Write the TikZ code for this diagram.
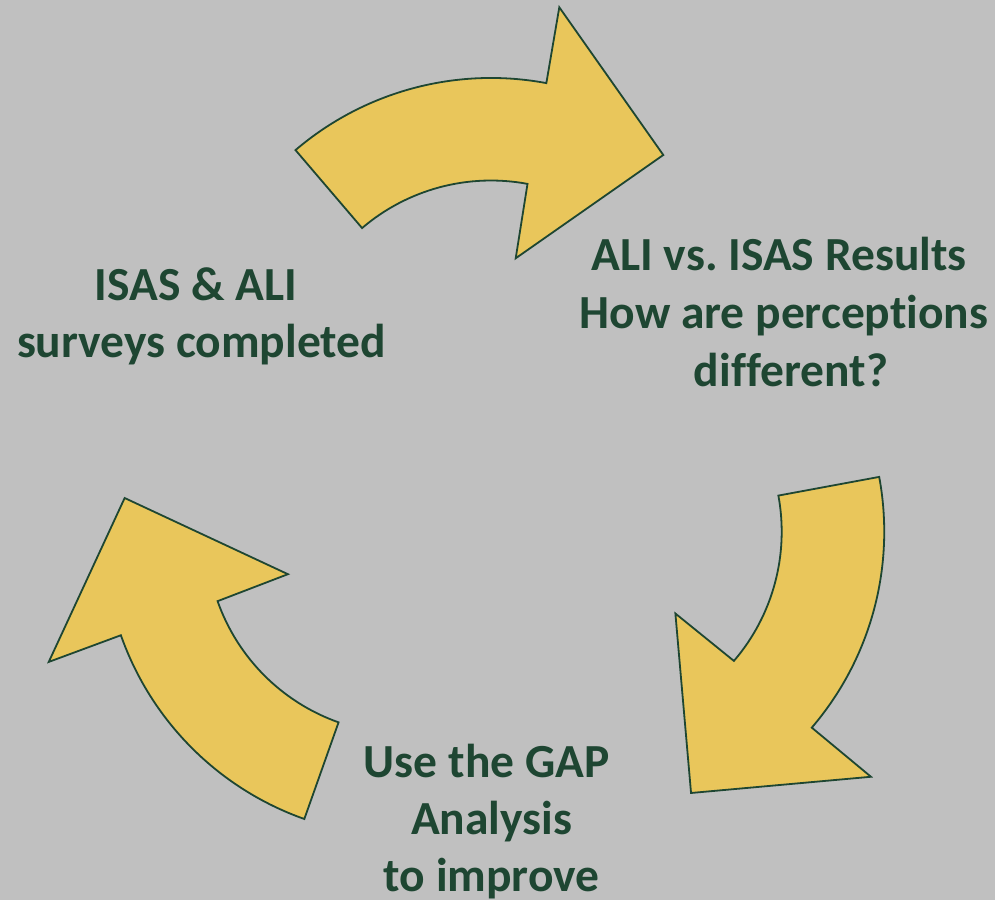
\documentclass[tikz,border=0pt]{standalone}
\usepackage{fontspec}
\setmainfont{Carlito}[Ligatures={NoCommon}]
\frenchspacing
\definecolor{bgc}{RGB}{192,192,192}
\definecolor{arrowfill}{RGB}{233,198,91}
\definecolor{darkgreen}{RGB}{30,70,50}
\newcommand{\drawcyclearrow}[2]{%
  \draw[cyclearrow, rotate around={#1:(493,418)}]
    (295.5,749.9) arc[start angle=130.5, end angle=79.4, radius=301]
    -- (559.3,892.7) -- (663.3,745) coordinate (#2) -- (515.7,641.7)
    -- (527.5,716.1) arc[start angle=79.4, end angle=130.5, radius=198.5]
    -- cycle;}
\begin{document}
\begin{tikzpicture}[x=1pt,y=1pt,
  cyclearrow/.style={fill=arrowfill, draw=darkgreen, line width=1.8pt, line join=miter},
  lbl/.style={text=darkgreen, font=\fontsize{47.5}{58}\selectfont\bfseries, inner sep=0pt, anchor=base}]
\fill[bgc] (0,0) rectangle (995,900);
\useasboundingbox (0,0) rectangle (995,900);

\drawcyclearrow{0}{tipA}
\drawcyclearrow{-120}{tipB}
\drawcyclearrow{-240}{tipC}

\node[lbl] (l1) at (196,599) {ISAS \& ALI};
\node[lbl] (l2) at (201.5,542) {surveys completed};

\node[lbl] (r1) at (779,629) {ALI vs.\ ISAS Results};
\node[lbl] (r2) at (784,571) {How are perceptions};
\node[lbl] (r3) at (791,513) {different?};

\node[lbl] (b1) at (486.7,123) {Use the GAP};
\node[lbl] (b2) at (491.7,66) {Analysis};
\node[lbl] (b3) at (491.7,9) {to improve};
\end{tikzpicture}
\end{document}
